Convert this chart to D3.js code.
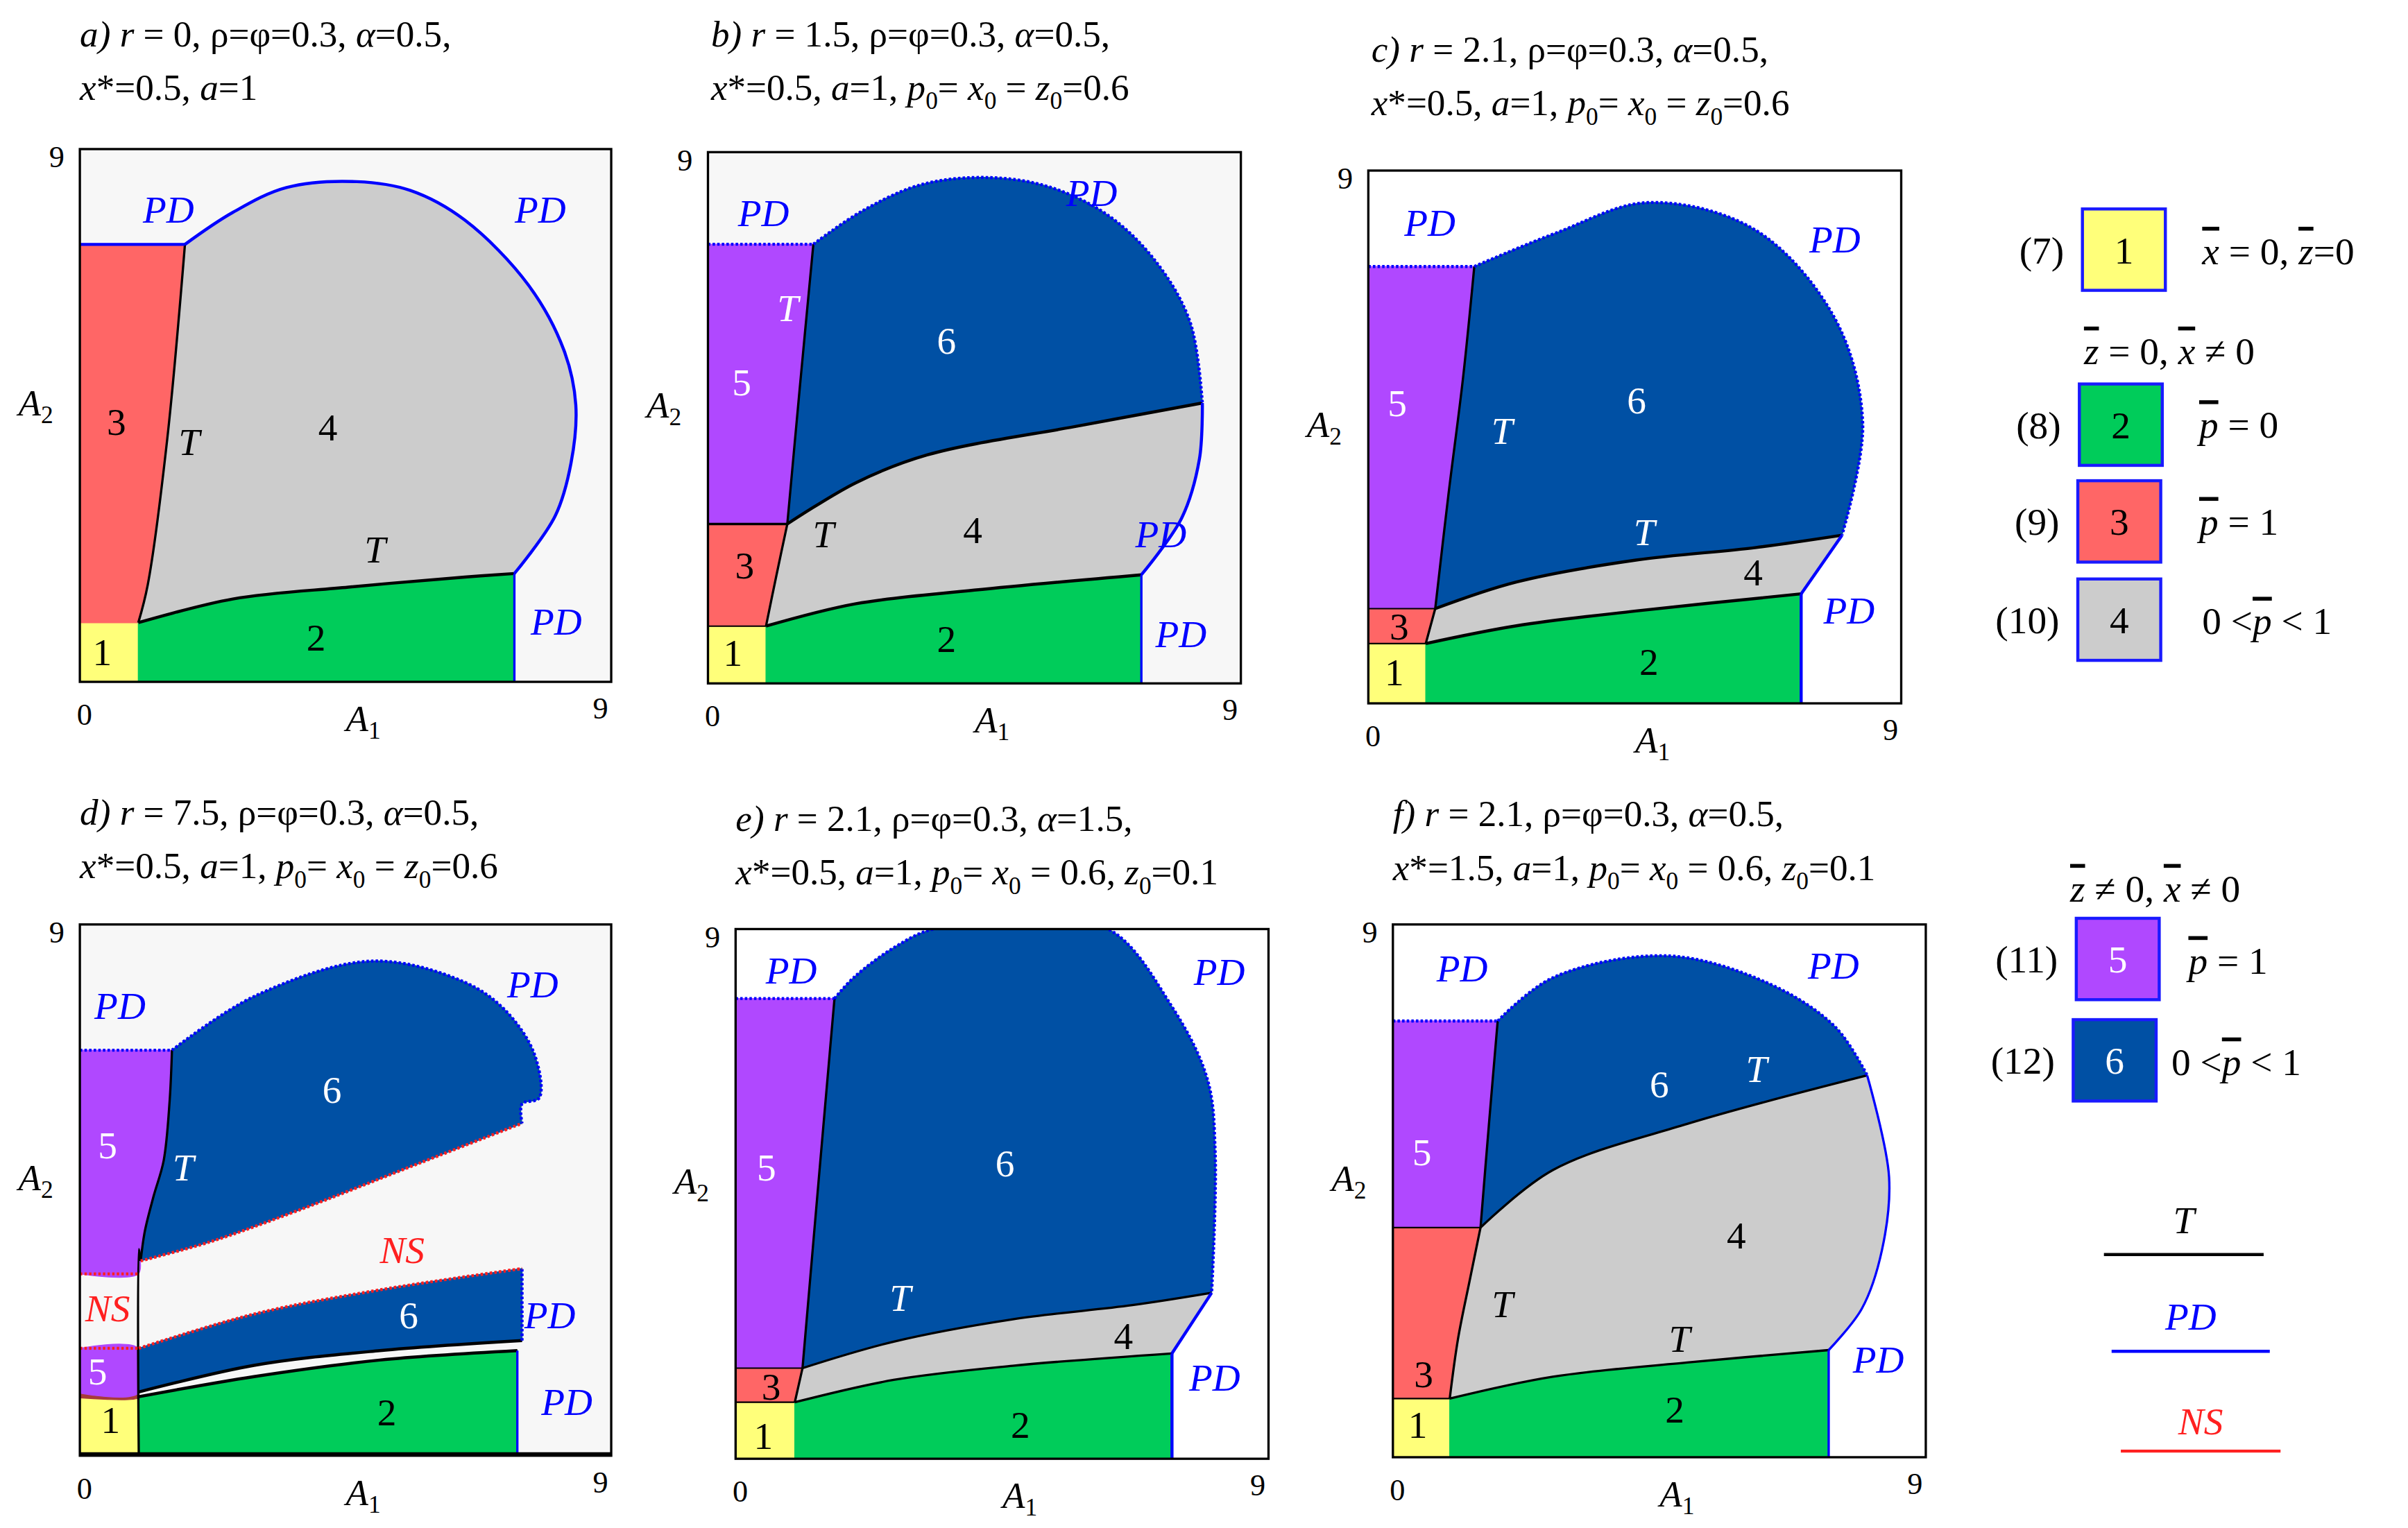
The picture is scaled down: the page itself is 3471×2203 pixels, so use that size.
<!DOCTYPE html>
<html><head><meta charset="utf-8">
<script src="https://cdn.jsdelivr.net/npm/d3@7/dist/d3.min.js"></script>
<style>body{margin:0;background:#fff}svg{display:block}text{font-family:"Liberation Serif","DejaVu Serif",serif}</style>
</head><body><svg id="c"></svg>
<script>
// ---------- DATA (A1, A2 coordinates, 0..9) ----------
const axisTicks = ["0","9"];
// panel a
const aYellow=[[0,0],[0.99,0],[0.99,1.0],[0,1.0]];
const aT1=[[0.99,1.0],[1.15,1.64],[1.48,4.1],[1.78,7.39]];
const aGreenTop=[[0.99,1.0],[2.59,1.40],[4.55,1.6],[6.52,1.77],[7.36,1.83]];
const aPD=[[1.78,7.39],[2.59,7.93],[3.5,8.35],[4.69,8.45],[5.6,8.3],[6.52,7.8],[7.6,6.7],[8.2,5.6],[8.4,4.68],[8.32,3.7],[8.05,2.8],[7.36,1.83]];
// panel b
const bYellow=[[0,0],[0.98,0],[0.98,0.97],[0,0.97]];
const bTlow=[[0.98,0.97],[1.15,1.8],[1.34,2.7]];
const bTup=[[1.34,2.7],[1.55,5.0],[1.78,7.44]];
const bTmid=[[1.34,2.7],[2.5,3.4],[3.7,3.87],[6.3,4.37],[8.35,4.75]];
const bArc=[[1.78,7.44],[2.6,8.0],[3.6,8.45],[4.75,8.57],[5.8,8.4],[6.8,7.9],[7.6,7.1],[8.15,6.1],[8.35,4.75]];
const bPD=[[8.35,4.75],[8.3,3.8],[8.0,2.8],[7.32,1.84]];
const bGreenTop=[[0.98,0.97],[2.5,1.35],[4.5,1.58],[7.32,1.84]];
// panel c
const cYellow=[[0,0],[0.97,0],[0.97,1.01],[0,1.01]];
const cTlow=[[0.97,1.01],[1.13,1.6]];
const cTup=[[1.13,1.6],[1.35,3.5],[1.6,5.5],[1.79,7.38]];
const cTmid=[[1.13,1.6],[2.5,2.05],[4.52,2.42],[6.53,2.63],[8.0,2.84]];
const cArc=[[1.79,7.38],[3.18,7.95],[4.72,8.46],[6.53,8.0],[7.88,6.5],[8.35,4.73],[8.0,2.84]];
const cPD=[[8.0,2.84],[7.31,1.85]];
const cGreenTop=[[0.97,1.01],[2.5,1.31],[4.52,1.56],[7.31,1.85]];
// panel d
const dYellow=[[0,0],[0.99,0],[0.99,0.98],[0,0.98]];
const dRedBand=[[0,0.98],[0.99,0.98],[0.99,1.06],[0,1.06]];
const dPurpleLow=[[0,1.06],[0.99,1.06],[0.99,1.82],[0,1.82]];
const dT=[[1.03,3.3],[1.1,3.8],[1.25,4.4],[1.42,5.0],[1.52,6.0],[1.56,6.87]];
const dArc=[[1.56,6.87],[2.95,7.78],[4.94,8.38],[6.5,8.03],[7.21,7.54],[7.7,6.8],[7.78,6.06],[7.49,5.96],[7.49,5.63]];
const dNS1=[[1.03,3.3],[2.2,3.62],[3.66,4.14],[5.79,4.97],[7.49,5.63]];
const dNS2=[[1.0,1.82],[2.95,2.4],[5.08,2.81],[7.49,3.17]];
const dBlueBot=[[1.0,1.08],[2.95,1.53],[5.08,1.78],[7.49,1.95]];
const dGreenTop=[[1.0,1.0],[2.95,1.34],[5.08,1.62],[7.41,1.78]];
// panel e
const eYellow=[[0,0],[1.0,0],[1.0,0.96],[0,0.96]];
const eTlow=[[1.0,0.96],[1.13,1.54]];
const eTup=[[1.13,1.54],[1.4,4.7],[1.67,7.82]];
const eTmid=[[1.13,1.54],[2.67,1.99],[4.68,2.37],[6.7,2.61],[8.04,2.82]];
const eArc=[[1.67,7.82],[2.0,8.18],[2.7,8.7],[3.34,9],[4.8,9.05],[6.29,9],[7.37,7.68],[7.97,6.44],[8.1,5.2],[8.04,2.82]];
const ePD=[[8.04,2.82],[7.37,1.79]];
const eGreenTop=[[1.0,0.96],[2.67,1.34],[4.68,1.58],[7.37,1.79]];
// panel f
const fYellow=[[0,0],[0.96,0],[0.96,0.99],[0,0.99]];
const fTlow=[[0.96,0.99],[1.1,2.0],[1.3,3.0],[1.48,3.88]];
const fTup=[[1.48,3.88],[1.62,5.6],[1.77,7.37]];
const fTmid=[[1.48,3.88],[2.7,4.85],[4.97,5.63],[8.01,6.45]];
const fArc=[[1.77,7.37],[2.7,8.1],[4.63,8.47],[6.33,8.01],[7.47,7.27],[8.01,6.45]];
const fPD=[[8.01,6.45],[8.38,4.73],[8.26,3.5],[7.92,2.51],[7.36,1.81]];
const fGreenTop=[[0.96,0.99],[2.7,1.36],[4.97,1.6],[7.36,1.81]];

// titles
const sub0=["0","sub"];
const titles={
a:[[["a) ","i"],["r","i"],[" = 0, ρ=φ=0.3, ",""],["α","i"],["=0.5,",""]],[["x","i"],["*=0.5, ",""],["a","i"],["=1",""]]],
b:[[["b) ","i"],["r","i"],[" = 1.5, ρ=φ=0.3, ",""],["α","i"],["=0.5,",""]],[["x","i"],["*=0.5, ",""],["a","i"],["=1, ",""],["p","i"],sub0,["= ",""],["x","i"],sub0,[" = ",""],["z","i"],sub0,["=0.6",""]]],
c:[[["c) ","i"],["r","i"],[" = 2.1, ρ=φ=0.3, ",""],["α","i"],["=0.5,",""]],[["x","i"],["*=0.5, ",""],["a","i"],["=1, ",""],["p","i"],sub0,["= ",""],["x","i"],sub0,[" = ",""],["z","i"],sub0,["=0.6",""]]],
d:[[["d) ","i"],["r","i"],[" = 7.5, ρ=φ=0.3, ",""],["α","i"],["=0.5,",""]],[["x","i"],["*=0.5, ",""],["a","i"],["=1, ",""],["p","i"],sub0,["= ",""],["x","i"],sub0,[" = ",""],["z","i"],sub0,["=0.6",""]]],
e:[[["e) ","i"],["r","i"],[" = 2.1, ρ=φ=0.3, ",""],["α","i"],["=1.5,",""]],[["x","i"],["*=0.5, ",""],["a","i"],["=1, ",""],["p","i"],sub0,["= ",""],["x","i"],sub0,[" = 0.6, ",""],["z","i"],sub0,["=0.1",""]]],
f:[[["f) ","i"],["r","i"],[" = 2.1, ρ=φ=0.3, ",""],["α","i"],["=0.5,",""]],[["x","i"],["*=1.5, ",""],["a","i"],["=1, ",""],["p","i"],sub0,["= ",""],["x","i"],sub0,[" = 0.6, ",""],["z","i"],sub0,["=0.1",""]]]
};
const legendNums=["(7)","(8)","(9)","(10)","(11)","(12)"];
const legendCodes=["1","2","3","4","5","6"];
const lineLegend=["T","PD","NS"];

// ---------- DRAW ----------
const W=1568,H=995;
const svg=d3.select("#c").attr("width",3471).attr("height",2203).attr("viewBox",`0 0 ${W} ${H}`);
const C={y:"#ffff7a",g:"#00cc5a",r:"#ff6666",gr:"#cccccc",p:"#b048ff",b:"#0050a4",blue:"#0000ff",ns:"#ff2020"};
const rev=a=>a.slice().reverse();
const seg=(a,b)=>[a,b];

function panel(id,box,bg,regions,lines,labels,titleXY){
  const x=d3.scaleLinear().domain([0,9]).range([box[0],box[2]]);
  const y=d3.scaleLinear().domain([0,9]).range([box[3],box[1]]);
  const g=svg.append("g");
  const cp="clip"+id;
  svg.append("clipPath").attr("id",cp).append("rect").attr("x",box[0]).attr("y",box[1]).attr("width",box[2]-box[0]).attr("height",box[3]-box[1]);
  g.append("rect").attr("x",box[0]).attr("y",box[1]).attr("width",box[2]-box[0]).attr("height",box[3]-box[1]).attr("fill",bg);
  const ln=d3.line().x(d=>x(d[0])).y(d=>y(d[1])).curve(d3.curveCatmullRom.alpha(0.5));
  const gi=g.append("g").attr("clip-path",`url(#${cp})`);
  regions.forEach(([segs,fill])=>{
    const d=segs.map((s,i)=>{const p=ln(s);return i?p.replace(/^M/,"L"):p;}).join("")+"Z";
    gi.append("path").attr("d",d).attr("fill",fill).attr("stroke",fill).attr("stroke-width",0.6);
  });
  lines.forEach(([pts,col,w,dash])=>{
    gi.append("path").attr("d",ln(pts)).attr("fill","none").attr("stroke",col).attr("stroke-width",w).attr("stroke-dasharray",dash||null);
  });
  g.append("rect").attr("x",box[0]).attr("y",box[1]).attr("width",box[2]-box[0]).attr("height",box[3]-box[1]).attr("fill","none").attr("stroke","#000").attr("stroke-width",1.5);
  labels.forEach(([t,a1,a2,col,it])=>{
    g.append("text").attr("x",x(a1)).attr("y",y(a2)).attr("text-anchor","middle").attr("dominant-baseline","central")
     .attr("font-size",25).attr("font-style",it?"italic":"normal").attr("fill",col).text(t);
  });
  // axes labels
  g.append("text").attr("x",box[0]-20).attr("y",box[1]+12).attr("font-size",20).text(axisTicks[1]);
  g.append("text").attr("x",box[0]-2).attr("y",box[3]+28).attr("font-size",20).text(axisTicks[0]);
  g.append("text").attr("x",box[2]-12).attr("y",box[3]+24).attr("font-size",20).text(axisTicks[1]);
  const a1=g.append("text").attr("x",x(4.8)).attr("y",box[3]+32).attr("font-size",24).attr("font-style","italic").attr("text-anchor","middle");
  a1.append("tspan").text("A"); a1.append("tspan").attr("font-size",16).attr("dy",5).attr("font-style","normal").text("1");
  const a2=g.append("text").attr("x",box[0]-40).attr("y",y(4.5)).attr("font-size",24).attr("font-style","italic");
  a2.append("tspan").text("A"); a2.append("tspan").attr("font-size",16).attr("dy",5).attr("font-style","normal").text("2");
  // title
  titles[id].forEach((parts,li)=>{
    const t=svg.append("text").attr("x",titleXY[0]).attr("y",titleXY[1]+li*35).attr("font-size",24);
    let shifted=false;
    parts.forEach(([s,st])=>{
      const ts=t.append("tspan").text(s);
      if(st==="i") ts.attr("font-style","italic");
      if(st==="sub"){ts.attr("font-size",16).attr("dy",6);shifted=true;}
      else if(shifted){ts.attr("dy",-6);shifted=false;}
    });
  });
}
const K="#000",Wt="#fff",B=C.blue,dot="1.6,1.4";

panel("a",[52,97,398,444],"#f7f7f7",
 [[[aYellow],C.y],[[[[0,1.0]],aT1,[[0,7.39]]],C.r],[[[[0.99,0],[7.36,0]],rev(aGreenTop)],C.g],[[aT1,aPD,rev(aGreenTop)],C.gr]],
 [[aT1,K,1.5],[aGreenTop,K,2],[aPD,B,2],[[[0,7.39],[1.78,7.39]],B,2],[[[7.36,0],[7.36,1.83]],B,1.5]],
 [["PD",1.5,7.97,B,1],["PD",7.8,7.97,B,1],["PD",8.07,1.01,B,1],["3",0.62,4.39,K],["T",1.85,4.05,K,1],["4",4.2,4.3,K],["T",5.0,2.23,K,1],["1",0.38,0.5,K],["2",4.0,0.75,K]],
 [52,30]);

panel("b",[461,99,808,445],"#f7f7f7",
 [[[bYellow],C.y],[[[[0,0.97]],bTlow,[[0,2.7]]],C.r],[[[[0,2.7]],bTup,[[0,7.44]]],C.p],[[bTup,bArc,rev(bTmid)],C.b],
  [[bTlow,bTmid,bPD,rev(bGreenTop)],C.gr],[[[[0.98,0],[7.32,0]],rev(bGreenTop)],C.g]],
 [[bTlow,K,1.5],[bTup,K,1.5],[bTmid,K,2],[bGreenTop,K,2],[[[0,2.7],[1.34,2.7]],K,1.5],[[[0,0.97],[0.98,0.97]],K,1],
  [bArc,B,2,dot],[[[0,7.44],[1.78,7.44]],B,2,dot],[bPD,B,2],[[[7.32,0],[7.32,1.84]],B,1.5]],
 [["PD",0.94,7.96,B,1],["PD",6.48,8.3,B,1],["PD",7.65,2.52,B,1],["PD",7.99,0.83,B,1],["T",1.35,6.35,Wt,1],["5",0.57,5.1,Wt],["6",4.03,5.8,Wt],["3",0.62,2.0,K],["T",1.95,2.52,K,1],["4",4.47,2.6,K],["1",0.42,0.52,K],["2",4.03,0.75,K]],
 [463,30]);

panel("c",[891,111,1238,458],"#fff",
 [[[cYellow],C.y],[[[[0,1.01]],cTlow,[[0,1.6]]],C.r],[[[[0,1.6]],cTup,[[0,7.38]]],C.p],[[cTup,cArc,rev(cTmid)],C.b],
  [[cTlow,cTmid,cPD,rev(cGreenTop)],C.gr],[[[[0.97,0],[7.31,0]],rev(cGreenTop)],C.g]],
 [[cTlow,K,1.5],[cTup,K,1.5],[cTmid,K,2],[cGreenTop,K,2],[[[0,1.6],[1.13,1.6]],K,1],[[[0,1.01],[0.97,1.01]],K,1],
  [cArc,B,2,dot],[[[0,7.38],[1.79,7.38]],B,2,dot],[cPD,B,2],[[[7.31,0],[7.31,1.85]],B,2]],
 [["PD",1.04,8.12,B,1],["PD",7.88,7.83,B,1],["PD",8.12,1.56,B,1],["5",0.49,5.07,Wt],["T",2.26,4.6,Wt,1],["6",4.53,5.12,Wt],["T",4.66,2.89,Wt,1],["4",6.5,2.21,K],["3",0.52,1.3,K],["1",0.44,0.52,K],["2",4.74,0.7,K]],
 [893,40]);

panel("d",[52,602,398,948],"#f7f7f7",
 [[[dYellow],C.y],[[dRedBand],"#a83a3a"],[[dPurpleLow],C.p],[[[[0,3.08],[0.99,3.08],[0.99,3.5]],dT,[[0,6.87]]],C.p],
  [[dT,dArc,rev(dNS1)],C.b],[[dBlueBot,rev(dNS2)],C.b],[[[[1.0,0],[7.41,0]],rev(dGreenTop)],C.g]],
 [[dT,K,1.5],[dBlueBot,K,2],[dGreenTop,K,2],[[[1.0,-0.2],[1.0,3.5],[1.03,3.3]],K,1.5],
  [dArc,B,2,dot],[[[0,6.87],[1.56,6.87]],B,2,dot],[[[7.49,1.95],[7.49,3.17]],B,2,dot],[[[7.41,0],[7.41,1.78]],B,1.5],
  [dNS1,C.ns,2,dot],[dNS2,C.ns,2,dot],[[[0,3.08],[0.99,3.08]],C.ns,2,dot],[[[0,1.82],[0.99,1.82]],C.ns,2,dot],[[[0,0.02],[9,0.02]],K,3]],
 [["PD",0.68,7.62,B,1],["PD",7.67,7.98,B,1],["6",4.27,6.2,Wt],["5",0.47,5.26,Wt],["T",1.75,4.88,Wt,1],["NS",5.46,3.48,C.ns,1],["NS",0.47,2.49,C.ns,1],
  ["6",5.57,2.38,Wt],["PD",7.96,2.38,B,1],["5",0.3,1.43,Wt],["1",0.52,0.6,K],["2",5.2,0.73,K],["PD",8.25,0.91,B,1]],
 [52,537]);

panel("e",[479,605,826,950],"#fff",
 [[[eYellow],C.y],[[[[0,0.96]],eTlow,[[0,1.54]]],C.r],[[[[0,1.54]],eTup,[[0,7.82]]],C.p],[[eTup,eArc,rev(eTmid)],C.b],
  [[eTlow,eTmid,ePD,rev(eGreenTop)],C.gr],[[[[1.0,0],[7.37,0]],rev(eGreenTop)],C.g]],
 [[eTlow,K,1.5],[eTup,K,1.5],[eTmid,K,1.5],[eGreenTop,K,1.5],[[[0,1.54],[1.13,1.54]],K,1],[[[0,0.96],[1.0,0.96]],K,1],
  [eArc,B,2,dot],[[[0,7.82],[1.67,7.82]],B,2,dot],[ePD,B,2],[[[7.37,0],[7.37,1.79]],B,2]],
 [["PD",0.94,8.29,B,1],["PD",8.17,8.27,B,1],["5",0.52,4.94,Wt],["6",4.55,5.02,Wt],["T",2.78,2.73,Wt,1],["4",6.55,2.08,K],["PD",8.09,1.38,B,1],["3",0.6,1.22,K],["1",0.47,0.39,K],["2",4.81,0.57,K]],
 [479,541]);

panel("f",[907,602,1254,949],"#fff",
 [[[fYellow],C.y],[[[[0,0.99]],fTlow,[[0,3.88]]],C.r],[[[[0,3.88]],fTup,[[0,7.37]]],C.p],[[fTup,fArc,rev(fTmid)],C.b],
  [[fTlow,fTmid,fPD,rev(fGreenTop)],C.gr],[[[[0.96,0],[7.36,0]],rev(fGreenTop)],C.g]],
 [[fTlow,K,1.5],[fTup,K,1.5],[fTmid,K,1.5],[fGreenTop,K,1.5],[[[0,3.88],[1.48,3.88]],K,1],[[[0,0.99],[0.96,0.99]],K,1],
  [fArc,B,2,dot],[[[0,7.37],[1.77,7.37]],B,2,dot],[fPD,B,1.5],[[[7.36,0],[7.36,1.81]],B,1.5]],
 [["PD",1.17,8.25,B,1],["PD",7.44,8.3,B,1],["6",4.5,6.3,Wt],["T",6.14,6.55,Wt,1],["5",0.49,5.15,Wt],["4",5.8,3.74,K],["T",1.85,2.58,K,1],["T",4.84,2.0,K,1],["PD",8.2,1.64,B,1],["3",0.52,1.4,K],["1",0.42,0.55,K],["2",4.76,0.8,K]],
 [907,538]);

// ---------- LEGEND ----------
const legFill=[C.y,C.g,C.r,C.gr,C.p,C.b];
const legTextCol=[K,K,K,K,Wt,Wt];
const legBox=[[1356,136],[1354,250],[1353,313],[1353,377],[1352,598],[1350,664]];
const L=svg.append("g").attr("font-size",25);
legBox.forEach(([bx,by],i)=>{
  L.append("rect").attr("x",bx).attr("y",by).attr("width",54).attr("height",53).attr("fill",legFill[i]).attr("stroke","#1a1aff").attr("stroke-width",2);
  L.append("text").attr("x",bx+27).attr("y",by+27).attr("text-anchor","middle").attr("dominant-baseline","central").attr("fill",legTextCol[i]).text(legendCodes[i]);
  L.append("text").attr("x",bx-12).attr("y",by+27).attr("text-anchor","end").attr("dominant-baseline","central").text(legendNums[i]);
});
function mathText(xx,yy,parts){
  const t=L.append("text").attr("x",xx).attr("y",yy);
  parts.forEach(([s,st])=>{const ts=t.append("tspan").text(s);
    if(st==="ov") ts.attr("font-style","italic").style("text-decoration","overline");});
}
mathText(1434,172,[["x","ov"],[" = 0,  ",""],["z","ov"],["=0",""]]);
mathText(1357,237,[["z","ov"],[" = 0, ",""],["x","ov"],[" ≠ 0",""]]);
mathText(1432,285,[["p","ov"],[" = 0",""]]);
mathText(1432,348,[["p","ov"],[" = 1",""]]);
mathText(1434,413,[["0 <",""],["p","ov"],[" < 1",""]]);
mathText(1348,587,[["z","ov"],[" ≠ 0, ",""],["x","ov"],[" ≠ 0",""]]);
mathText(1425,634,[["p","ov"],[" = 1",""]]);
mathText(1414,700,[["0 <",""],["p","ov"],[" < 1",""]]);
const lineCols=[K,B,C.ns];
[[1370,1474,817,803],[1375,1478,880,866],[1381,1485,945,934]].forEach(([x1,x2,yl,yt],i)=>{
  L.append("line").attr("x1",x1).attr("x2",x2).attr("y1",yl).attr("y2",yl).attr("stroke",lineCols[i]).attr("stroke-width",2);
  L.append("text").attr("x",(x1+x2)/2).attr("y",yt).attr("text-anchor","middle").attr("font-style","italic").attr("fill",lineCols[i]).text(lineLegend[i]);
});
</script></body></html>
